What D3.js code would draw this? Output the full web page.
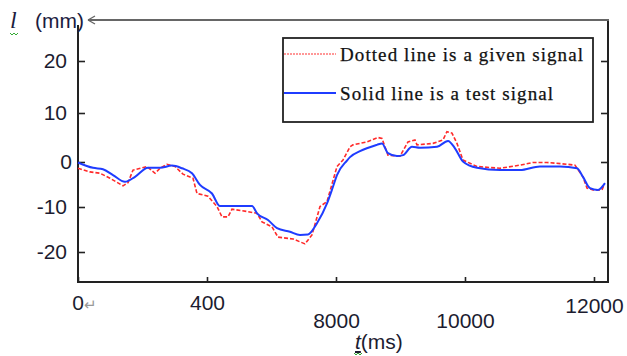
<!DOCTYPE html>
<html>
<head>
<meta charset="utf-8">
<script src="https://cdn.jsdelivr.net/npm/d3@7"></script>
<style>
  body { margin: 0; background: #fff; }
  svg { display: block; }
</style>
</head>
<body>
<svg id="chart" width="627" height="356"></svg>
<script>
// test signal (solid blue)
var testT = [0, 349, 581, 814, 1093, 1326, 1628, 1907, 2186, 2419, 2651, 2837, 3116, 3302, 3605, 4047, 4163, 4419, 4628, 4930, 5163, 5349, 5558, 5791, 5930, 6023, 6256, 6326, 6558, 6953, 7070, 7209, 7419, 7558, 7767, 7953, 8349, 8605, 8767, 8953, 9279, 9814, 10279, 10744, 11209, 11605, 11744, 11907, 12093, 12256];
var testL = [-0.1, -1.3, -1.6, -2.9, -4.4, -3.3, -1.3, -1.3, -0.8, -1.4, -2.5, -5.1, -7.0, -9.8, -9.8, -9.8, -11.4, -12.9, -14.7, -15.5, -16.2, -16.1, -13.6, -9.2, -5.5, -2.9, 0.3, 1.0, 2.2, 3.5, 3.8, 1.8, 1.2, 1.4, 3.1, 2.9, 3.1, 4.3, 2.8, 0.1, -1.3, -1.8, -1.8, -1.0, -1.0, -1.4, -3.3, -5.8, -6.2, -4.7];

// given signal (dotted red)
var givenT = [0, 279, 512, 744, 1047, 1163, 1279, 1605, 1791, 1907, 2070, 2256, 2442, 2674, 2767, 3023, 3233, 3349, 3488, 3581, 3930, 4163, 4279, 4512, 4651, 5000, 5279, 5442, 5628, 5791, 6023, 6163, 6326, 6395, 6721, 6977, 7070, 7209, 7488, 7674, 7837, 7884, 8256, 8488, 8581, 8698, 8814, 8953, 9279, 9814, 10279, 10581, 10907, 11372, 11558, 11744, 11837, 11977, 12186, 12233];
var givenL = [-1.4, -2.2, -2.5, -3.6, -5.3, -4.6, -1.8, -1.0, -2.5, -1.4, -0.5, -1.0, -2.7, -3.6, -7.0, -7.6, -9.9, -12.2, -12.2, -10.5, -11.0, -11.4, -13.3, -14.4, -16.7, -17.1, -18.2, -16.2, -9.9, -8.8, -1.0, 0.4, 3.1, 3.5, 4.1, 5.0, 4.8, 1.4, 1.2, 4.1, 4.5, 3.5, 3.8, 4.5, 6.2, 5.9, 3.8, 0.4, -1.0, -1.4, -0.7, -0.1, -0.1, -0.5, -0.7, -3.3, -5.8, -6.2, -6.2, -5.1];

var yTicks = [-20, -10, 0, 10, 20];
var xTicks = [0, 3000, 6000, 9000, 12000];
var xTickLabels = ["0", "400", "8000", "10000", "12000"];
var legendLabels = ["Dotted line is a given signal", "Solid line is a test signal"];

var svg = d3.select("#chart");
var plotLeft = 78, plotRight = 608, plotTop = 20, plotBottom = 282;

var x = d3.scaleLinear().domain([0, 12326]).range([plotLeft, plotRight]);
// the printed axis is not evenly spaced, so calibrate piecewise
var y = d3.scaleLinear()
    .domain([-26.8, -20, -10, 0, 10, 20, 27.9])
    .range([plotBottom, 252, 207, 162, 113, 61, plotTop]);

var ink = "#222";
var labelFont = "'Liberation Sans', Arial, sans-serif";

// left axis, ticks pointing inward
var yAxisL = svg.append("g")
    .attr("transform", "translate(" + plotLeft + ",0)")
    .call(d3.axisLeft(y).tickValues(yTicks).tickSizeInner(-7).tickSizeOuter(0).tickPadding(11)
      .tickFormat(function(d) { return String(d); }));
yAxisL.select(".domain").remove();
yAxisL.selectAll("line").attr("stroke", ink).attr("stroke-width", 1.6);
yAxisL.selectAll("text")
    .attr("font-family", labelFont).attr("font-size", 21).attr("fill", "#1c1c30")
    .attr("dx", function(d) { return d === 0 ? 5 : 0; });

// right axis
var yAxisR = svg.append("g")
    .attr("transform", "translate(" + plotRight + ",0)")
    .call(d3.axisRight(y).tickValues(yTicks).tickSizeInner(-7).tickSizeOuter(0).tickFormat(""));
yAxisR.select(".domain").remove();
yAxisR.selectAll("line").attr("stroke", ink).attr("stroke-width", 1.6);

// bottom axis, labels sit at uneven heights in the original
var xDrop = { "0": 13, "400": 13, "8000": 31, "10000": 31, "12000": 16 };
var xAxis = svg.append("g")
    .attr("transform", "translate(0," + plotBottom + ")")
    .call(d3.axisBottom(x).tickValues(xTicks).tickSizeInner(-5).tickSizeOuter(0)
      .tickFormat(function(d, i) { return xTickLabels[i]; }));
xAxis.select(".domain").remove();
xAxis.selectAll("line").attr("stroke", ink).attr("stroke-width", 1.6);
xAxis.selectAll("text")
    .attr("font-family", labelFont).attr("font-size", 21).attr("fill", "#1c1c30")
    .attr("y", function(d, i) { return xDrop[xTickLabels[i]]; })
    .attr("dx", function(d, i) { return i === 0 ? 6 : 0; });
// stray paragraph mark after the 0
xAxis.selectAll(".tick").filter(function(d, i) { return i === 0; }).select("text")
    .append("tspan").attr("fill", "#999").attr("font-size", 15).text("\u21B5");

// frame
var frame = svg.append("g").attr("fill", "none");
frame.append("line").attr("x1", plotLeft).attr("x2", plotLeft).attr("y1", 25).attr("y2", plotBottom + 1)
    .attr("stroke", ink).attr("stroke-width", 2);
frame.append("line").attr("x1", plotLeft - 1).attr("x2", plotRight + 1).attr("y1", plotBottom).attr("y2", plotBottom)
    .attr("stroke", ink).attr("stroke-width", 2);
frame.append("line").attr("x1", plotRight).attr("x2", plotRight).attr("y1", plotTop).attr("y2", plotBottom + 1)
    .attr("stroke", ink).attr("stroke-width", 2);
frame.append("line").attr("x1", 88).attr("x2", plotRight + 1).attr("y1", plotTop).attr("y2", plotTop)
    .attr("stroke", "#666").attr("stroke-width", 2);
frame.append("path").attr("d", "M88,20 l7,-4 M88,20 l7,4")
    .attr("stroke", "#666").attr("stroke-width", 1.4);

// curves
var line = d3.line()
    .x(function(d) { return x(d[0]); })
    .y(function(d) { return y(d[1]); });

var given = d3.zip(givenT, givenL);
var test = d3.zip(testT, testL);

svg.append("path")
    .datum(given)
    .attr("fill", "none")
    .attr("stroke", "#ff2a2a")
    .attr("stroke-width", 1.6)
    .attr("stroke-dasharray", "4,2")
    .attr("d", line);

svg.append("path")
    .datum(test)
    .attr("fill", "none")
    .attr("stroke", "#1f3cff")
    .attr("stroke-width", 2)
    .attr("d", line.curve(d3.curveMonotoneX));

// legend
var legend = svg.append("g");
legend.append("rect")
    .attr("x", 283).attr("y", 38).attr("width", 310).attr("height", 84)
    .attr("fill", "#fff").attr("stroke", ink).attr("stroke-width", 1.8);

var legendStyle = [
  { stroke: "#ff3030", width: 1.2, dash: "2,1", y: 54, w: 243 },
  { stroke: "#1f3cff", width: 2, dash: null, y: 93, w: 213 }
];
legendStyle.forEach(function(s, i) {
  legend.append("line")
      .attr("x1", 284).attr("x2", 336).attr("y1", s.y).attr("y2", s.y)
      .attr("stroke", s.stroke).attr("stroke-width", s.width)
      .attr("stroke-dasharray", s.dash);
  legend.append("text")
      .attr("x", 340).attr("y", s.y + 7)
      .attr("font-family", "'Liberation Serif', 'Times New Roman', serif")
      .attr("font-size", 19).attr("fill", "#111")
      .attr("stroke", "#111").attr("stroke-width", 0.25)
      .attr("textLength", s.w).attr("lengthAdjust", "spacing")
      .text(legendLabels[i]);
});

// axis titles
var yTitle = svg.append("text").attr("x", 10).attr("y", 28).attr("fill", "#1c1c40");
yTitle.append("tspan")
    .attr("font-family", "'Liberation Serif', serif").attr("font-style", "italic")
    .attr("font-size", 24).text("l");
yTitle.append("tspan")
    .attr("x", 35)
    .attr("font-family", labelFont).attr("font-size", 21).text("(mm)");

var xTitle = svg.append("text").attr("x", 355).attr("y", 349)
    .attr("font-family", labelFont).attr("font-size", 21).attr("fill", "#1c1c30");
xTitle.append("tspan").attr("font-style", "italic").attr("text-decoration", "underline").text("t");
xTitle.append("tspan").text("(ms)");

// spell-check squiggles left in the source figure
svg.append("path").attr("d", "M10,33 l2,2 l2,-2 l2,2 l2,-2")
    .attr("fill", "none").attr("stroke", "#3a3").attr("stroke-width", 1);
svg.append("path").attr("d", "M354,353 l2,2 l2,-2 l2,2 l2,-2")
    .attr("fill", "none").attr("stroke", "#3a3").attr("stroke-width", 1);
</script>
</body>
</html>
